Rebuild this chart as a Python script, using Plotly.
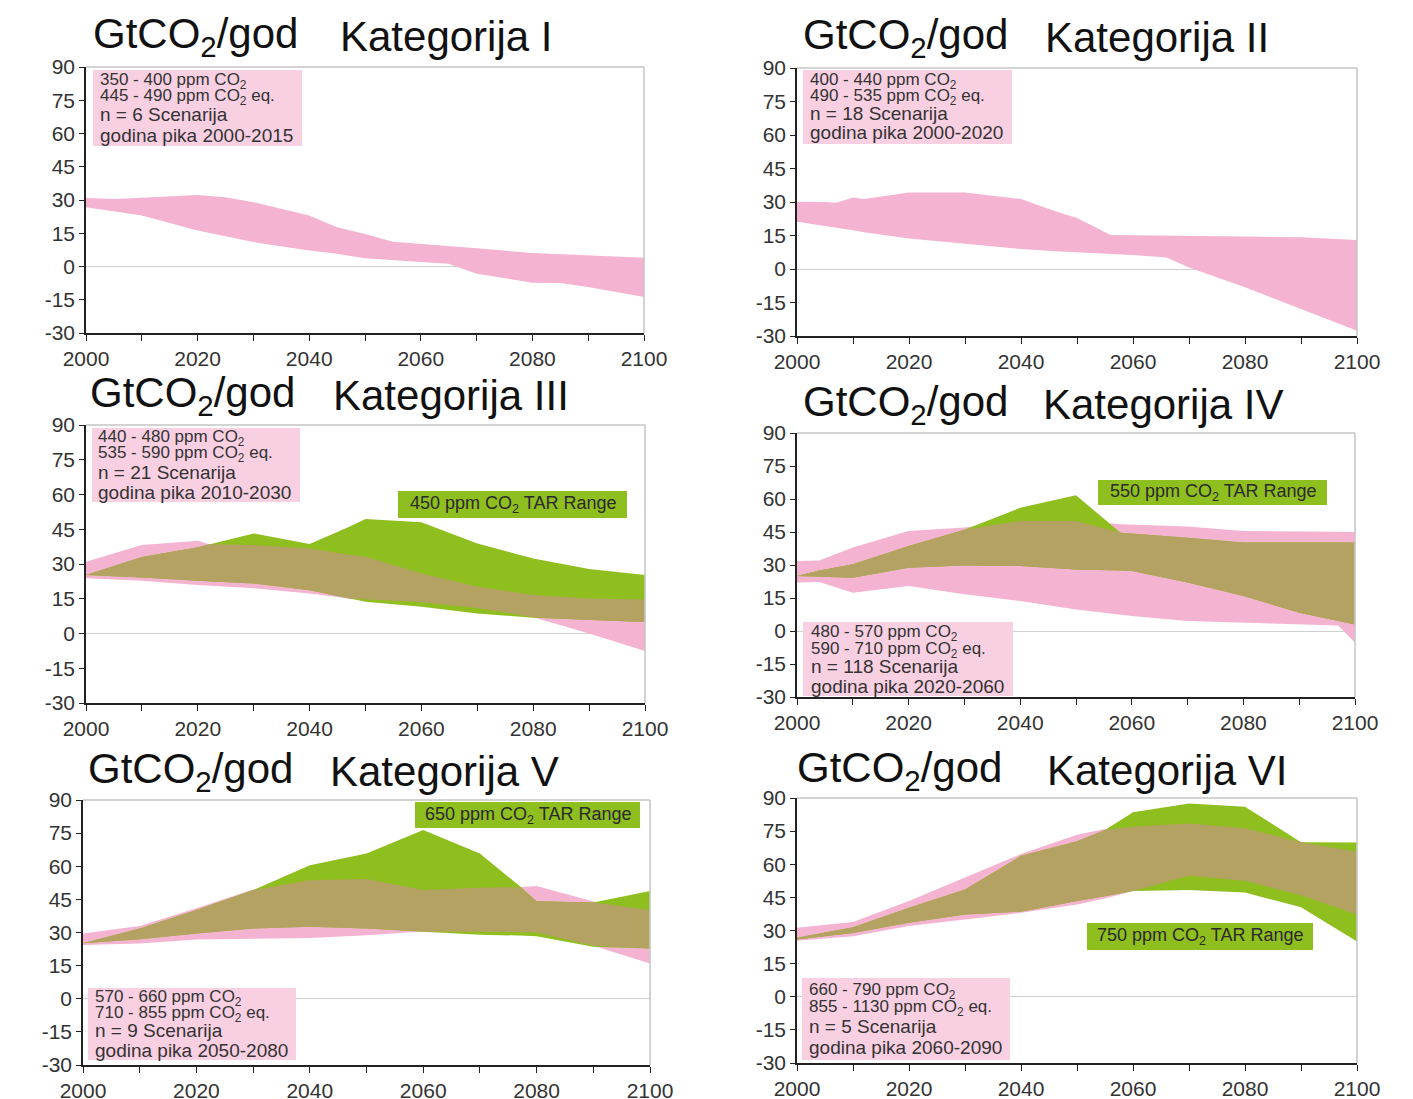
import numpy as np
import plotly.graph_objects as go

# ---------------- data (GtCO2 per year) ----------------
years_1 = [2000, 2005, 2010, 2020, 2025, 2030, 2040, 2045, 2050, 2055, 2060, 2065, 2070, 2080, 2085, 2090, 2100]
pink_hi_1 = [30.9, 30.5, 31, 32.2, 31.2, 29, 23, 17.7, 14.7, 11.2, 10.2, 9.1, 8.2, 6.1, 5.5, 5, 4]
pink_lo_1 = [26.7, 25, 23, 16.2, 13.5, 11, 7.2, 5.7, 3.7, 3, 2, 1.2, -3.3, -7.3, -7.5, -9.3, -13.8]

years_2 = [2000, 2005, 2007, 2010, 2012, 2020, 2030, 2040, 2046, 2050, 2056, 2060, 2066, 2070, 2080, 2090, 2100]
pink_hi_2 = [30.1, 30, 29.7, 32, 31.3, 34.3, 34.3, 31.3, 26, 22.8, 15.2, 15.2, 15, 14.9, 14.5, 14.2, 13]
pink_lo_2 = [21.2, 19.5, 18.5, 17.4, 16.5, 13.7, 11.2, 8.9, 8, 7.5, 6.6, 6.3, 5.2, 0.7, -8.2, -17.9, -27.6]

years_3 = [2000, 2010, 2020, 2022, 2030, 2040, 2047, 2050, 2060, 2070, 2080, 2090, 2100]
pink_hi_3 = [31, 38.2, 40, 38.5, 38.2, 36.7, 34.0, 33.1, 25.9, 20.2, 16.6, 15.1, 14.7]
pink_lo_3 = [23.8, 22.8, 20.9, 20.6, 19.5, 17.3, 15.1, 14.8, 13.5, 11, 7, 0, -7.5]
green_hi_3 = [25.2, 33, 37.2, 38.5, 43.2, 38.6, 46, 49.4, 48, 38.9, 32.4, 27.8, 25.2]
green_lo_3 = [25.2, 24.2, 22.8, 22.5, 21.6, 18.7, 15.1, 13.7, 11.5, 8.6, 6.8, 5.8, 5]

years_4 = [2000, 2004, 2010, 2020, 2030, 2040, 2050, 2058, 2060, 2070, 2080, 2090, 2097, 2100]
pink_hi_4 = [31.8, 32, 37.9, 45.5, 47, 50, 50, 48.5, 48.5, 47.5, 45.5, 45.2, 45.1, 45]
pink_lo_4 = [22, 22.3, 17.4, 20.5, 16.7, 13.6, 9.8, 7.5, 6.8, 4.5, 3.8, 3, 2.5, -5.3]
green_hi_4 = [25, 27.5, 30.3, 38.6, 46, 56, 61.7, 44.7, 44.3, 42.4, 40.2, 40.2, 40.2, 40.2]
green_lo_4 = [25, 24.8, 24.2, 28.8, 29.8, 29.5, 28, 27.5, 27.3, 22, 15.9, 8.3, 4.5, 3]

years_5 = [2000, 2010, 2020, 2030, 2040, 2050, 2060, 2070, 2077, 2080, 2090, 2100]
pink_hi_5 = [29.6, 33, 41, 49.5, 53.7, 54.2, 49.2, 50.3, 50.5, 51, 44, 40.2]
pink_lo_5 = [24.3, 25, 26.8, 27.3, 27.5, 28.8, 30.5, 30.5, 30.2, 30, 24, 16]
green_hi_5 = [25.1, 31.8, 40.2, 49.2, 60.5, 65.8, 76.4, 65.8, 51, 44.2, 43.6, 48.8]
green_lo_5 = [25.1, 27, 29.6, 31.8, 32.6, 31.8, 30.3, 29, 28.6, 28.3, 23.5, 22.8]

years_6 = [2000, 2010, 2020, 2030, 2040, 2050, 2055, 2060, 2070, 2080, 2090, 2100]
pink_hi_6 = [31.2, 33.9, 43.4, 54, 64.6, 73.4, 76, 77, 78.5, 76.3, 70.2, 65.7]
pink_lo_6 = [25.4, 27.4, 32, 35, 38, 41.8, 44.5, 47.9, 54.8, 52.5, 46, 37.3]
green_hi_6 = [26.7, 31.5, 40.3, 48.6, 63.8, 70.4, 75.5, 83.6, 87.5, 86, 70, 69.9]
green_lo_6 = [25.9, 28.9, 33.5, 37.3, 38.5, 43.4, 45.5, 47.9, 48.3, 47.2, 40.5, 25]

x_ticks = [2000, 2020, 2040, 2060, 2080, 2100]
y_ticks = [-30, -15, 0, 15, 30, 45, 60, 75, 90]
y_tick_text = ["-30", "-15", "0", "15", "30", "45", "60", "75", "90"]

categories = ["I", "II", "III", "IV", "V", "VI"]
info_lines = [
    ["350 - 400 ppm CO<sub>2</sub>", "445 - 490 ppm CO<sub>2</sub> eq.", "n = 6 Scenarija", "godina pika 2000-2015"],
    ["400 - 440 ppm CO<sub>2</sub>", "490 - 535 ppm CO<sub>2</sub> eq.", "n = 18 Scenarija", "godina pika 2000-2020"],
    ["440 - 480 ppm CO<sub>2</sub>", "535 - 590 ppm CO<sub>2</sub> eq.", "n = 21 Scenarija", "godina pika 2010-2030"],
    ["480 - 570 ppm CO<sub>2</sub>", "590 - 710 ppm CO<sub>2</sub> eq.", "n = 118 Scenarija", "godina pika 2020-2060"],
    ["570 - 660 ppm CO<sub>2</sub>", "710 - 855 ppm CO<sub>2</sub> eq.", "n = 9 Scenarija", "godina pika 2050-2080"],
    ["660 - 790 ppm CO<sub>2</sub>", "855 - 1130 ppm CO<sub>2</sub> eq.", "n = 5 Scenarija", "godina pika 2060-2090"],
]
tar_labels = [None, None,
              "450 ppm CO<sub>2</sub> TAR Range", "550 ppm CO<sub>2</sub> TAR Range",
              "650 ppm CO<sub>2</sub> TAR Range", "750 ppm CO<sub>2</sub> TAR Range"]

series = [
    (years_1, pink_lo_1, pink_hi_1, None, None),
    (years_2, pink_lo_2, pink_hi_2, None, None),
    (years_3, pink_lo_3, pink_hi_3, green_lo_3, green_hi_3),
    (years_4, pink_lo_4, pink_hi_4, green_lo_4, green_hi_4),
    (years_5, pink_lo_5, pink_hi_5, green_lo_5, green_hi_5),
    (years_6, pink_lo_6, pink_hi_6, green_lo_6, green_hi_6),
]

# ---------------- layout geometry (pixels) ----------------
W, H = 1413, 1099
# plot area: left, right, top, bottom
plot_boxes = [(86, 644, 67, 333), (797, 1357, 68, 336),
              (86, 645, 425, 703), (797, 1355, 433, 697),
              (83, 650, 800, 1065), (797, 1357, 798, 1063)]
# title: x of "GtCO2/god", x of "Kategorija", y centre
title_pos = [(91, 338, 36), (801, 1043, 38), (88, 331, 395),
             (801, 1041, 404), (86, 328, 771), (795, 1045, 770)]
# info box: x0, x1, y0, y1, text x, line centres
info_boxes = [(93, 302, 70, 146, 98, [81, 97, 115, 135]),
              (803, 1012, 70, 144, 808, [81, 97, 113, 133]),
              (92, 300, 428, 502, 96, [438, 454, 472, 492]),
              (803, 1013, 622, 696, 809, [633, 650, 666, 686]),
              (88, 296, 988, 1060, 93, [998, 1014, 1030, 1050]),
              (802, 1010, 978, 1060, 807, [991, 1008, 1026, 1047])]
tar_boxes = [None, None, (398, 627, 491, 518), (1098, 1327, 480, 505),
             (415, 640, 802, 828), (1087, 1313, 923, 950)]

PINK = "#f4b3d1"
GREEN = "#8fbe1f"
OLIVE = "#b4a263"
INFO_BG = "#f9d0e2"
FONT = "Liberation Sans, Arial, sans-serif"


def fx(x):
    return x / W


def fy(y):
    return 1 - y / H


def band(xs, lo, hi, color, xa, ya):
    return go.Scatter(x=list(xs) + list(xs)[::-1], y=list(lo) + list(hi)[::-1],
                      fill="toself", fillcolor=color, mode="lines",
                      line=dict(width=0, color=color), hoverinfo="skip",
                      showlegend=False, xaxis=xa, yaxis=ya)


fig = go.Figure()
shapes, annotations = [], []
layout = dict(width=W, height=H, autosize=False,
              margin=dict(l=0, r=0, t=0, b=0, pad=0, autoexpand=False),
              paper_bgcolor="white", plot_bgcolor="white", showlegend=False)

for i, (xs, plo, phi, glo, ghi) in enumerate(series):
    n = i + 1
    xa, ya = ("x", "y") if n == 1 else (f"x{n}", f"y{n}")
    fig.add_trace(band(xs, plo, phi, PINK, xa, ya))
    if glo is not None:
        fig.add_trace(band(xs, glo, ghi, GREEN, xa, ya))
        # range shared by both families of scenarios
        olo = np.maximum(plo, glo)
        ohi = np.maximum(np.minimum(phi, ghi), olo)
        fig.add_trace(band(xs, olo, ohi, OLIVE, xa, ya))

    x0, x1, y0, y1 = plot_boxes[i]
    layout["xaxis" if n == 1 else f"xaxis{n}"] = dict(
        domain=[fx(x0), fx(x1)], range=[2000, 2100], anchor=ya, automargin=False,
        tickvals=x_ticks, ticks="outside", ticklen=6, tickwidth=1.2, tickcolor="#222",
        minor=dict(ticks="outside", tick0=2000, dtick=10, ticklen=6, tickwidth=1.2,
                   tickcolor="#222", showgrid=False),
        showline=True, linecolor="#222", linewidth=1.5,
        showgrid=False, zeroline=False, fixedrange=True,
        tickfont=dict(family=FONT, size=21, color="#333"))
    layout["yaxis" if n == 1 else f"yaxis{n}"] = dict(
        domain=[fy(y1), fy(y0)], range=[-30, 90], anchor=xa, automargin=False,
        tickvals=y_ticks, ticktext=y_tick_text,
        ticks="outside", ticklen=5, tickwidth=1.2, tickcolor="#222",
        showline=True, linecolor="#222", linewidth=1.5,
        showgrid=False, zeroline=True, zerolinecolor="#cfcfcf", zerolinewidth=1,
        fixedrange=True, tickfont=dict(family=FONT, size=21, color="#333"))

    # light frame on the top and right sides
    shapes.append(dict(type="line", xref="paper", yref="paper", layer="above",
                       x0=fx(x0), x1=fx(x1), y0=fy(y0), y1=fy(y0),
                       line=dict(color="#c4c4c4", width=1.5)))
    shapes.append(dict(type="line", xref="paper", yref="paper", layer="above",
                       x0=fx(x1), x1=fx(x1), y0=fy(y0), y1=fy(y1),
                       line=dict(color="#c4c4c4", width=1.5)))

    # title
    tx1, tx2, tyc = title_pos[i]
    annotations.append(dict(xref="paper", yref="paper", x=fx(tx1), y=fy(tyc),
                            xanchor="left", yanchor="middle", showarrow=False,
                            text="GtCO<sub>2</sub>/god",
                            font=dict(family=FONT, size=42, color="#111")))
    annotations.append(dict(xref="paper", yref="paper", x=fx(tx2), y=fy(tyc),
                            xanchor="left", yanchor="middle", showarrow=False,
                            text="Kategorija " + categories[i],
                            font=dict(family=FONT, size=42, color="#111")))

    # info box
    bx0, bx1, by0, by1, ttx, lys = info_boxes[i]
    shapes.append(dict(type="rect", xref="paper", yref="paper", layer="above",
                       x0=fx(bx0), x1=fx(bx1), y0=fy(by1), y1=fy(by0),
                       fillcolor=INFO_BG, line=dict(width=0)))
    for k, (txt, ly) in enumerate(zip(info_lines[i], lys)):
        annotations.append(dict(xref="paper", yref="paper", x=fx(ttx), y=fy(ly),
                                xanchor="left", yanchor="middle", showarrow=False,
                                text=txt,
                                font=dict(family=FONT, size=17 if k < 2 else 19,
                                          color="#333")))

    # TAR range label
    if tar_boxes[i] is not None:
        gx0, gx1, gy0, gy1 = tar_boxes[i]
        shapes.append(dict(type="rect", xref="paper", yref="paper", layer="above",
                           x0=fx(gx0), x1=fx(gx1), y0=fy(gy1), y1=fy(gy0),
                           fillcolor=GREEN, line=dict(width=0)))
        annotations.append(dict(xref="paper", yref="paper",
                                x=fx((gx0 + gx1) / 2), y=fy((gy0 + gy1) / 2),
                                xanchor="center", yanchor="middle", showarrow=False,
                                text=tar_labels[i],
                                font=dict(family=FONT, size=18, color="#2a2a2a")))

layout["shapes"] = shapes
layout["annotations"] = annotations
fig.update_layout(**layout)
fig.write_html("out.html")
